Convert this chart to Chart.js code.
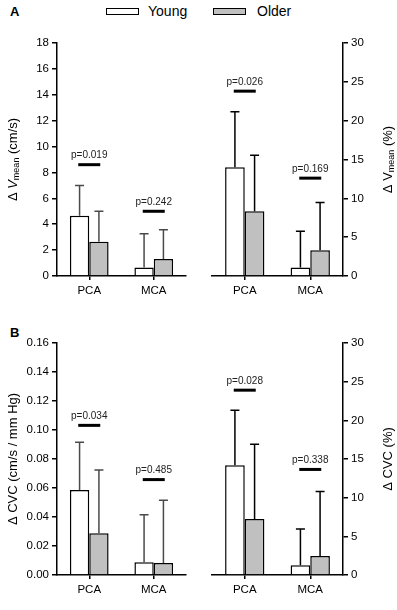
<!DOCTYPE html>
<html>
<head>
<meta charset="utf-8">
<script src="https://cdn.jsdelivr.net/npm/chart.js@4.4.1/dist/chart.umd.min.js"></script>
<style>
  body { margin: 0; background: #fff; font-family: "Liberation Sans", Arial, sans-serif; }
  #wrap { position: relative; width: 397px; height: 610px; overflow: hidden; }
  canvas { position: absolute; }
  .panel { position: absolute; font-weight: bold; font-size: 13px; }
  .leg-box { position: absolute; width: 31px; height: 5px; border: 1px solid #000; }
  .leg-text { position: absolute; font-size: 14px; }
</style>
</head>
<body>
<div id="wrap">
  <div class="panel" style="left:10px; top:4px;">A</div>
  <div class="panel" style="left:10px; top:325px;">B</div>
  <div class="leg-box" style="left:106px; top:8px; background:#fff;"></div>
  <div class="leg-text" style="left:148px; top:3px;">Young</div>
  <div class="leg-box" style="left:213px; top:8px; background:#c0c0c0;"></div>
  <div class="leg-text" style="left:257px; top:3px;">Older</div>

  <canvas id="vAbs" width="200" height="300" style="left:0; top:0;"></canvas>
  <canvas id="vPct" width="197" height="300" style="left:200px; top:0;"></canvas>
  <canvas id="cvcAbs" width="200" height="310" style="left:0; top:300px;"></canvas>
  <canvas id="cvcPct" width="197" height="310" style="left:200px; top:300px;"></canvas>
</div>
<script>
const categories = ["PCA", "MCA"];

// panel A, absolute change in mean velocity (cm/s)
const vAbsYoung = [4.65, 0.65];
const vAbsYoungSD = [2.35, 2.61];
const vAbsOlder = [2.64, 1.32];
const vAbsOlderSD = [2.36, 2.25];
const vAbsP = ["p=0.019", "p=0.242"];
const vAbsPLevel = [8.6, 5.0];

// panel A, relative change (%)
const vPctYoung = [14.0, 1.1];
const vPctYoungSD = [7.15, 4.65];
const vPctOlder = [8.35, 3.3];
const vPctOlderSD = [7.2, 6.15];
const vPctP = ["p=0.026", "p=0.169"];
const vPctPLevel = [23.8, 12.6];

// panel B, absolute change in CVC (cm/s / mm Hg)
const cvcAbsYoung = [0.0587, 0.0088];
const cvcAbsYoungSD = [0.0328, 0.0327];
const cvcAbsOlder = [0.0288, 0.0082];
const cvcAbsOlderSD = [0.0437, 0.0434];
const cvcAbsP = ["p=0.034", "p=0.485"];
const cvcAbsPLevel = [0.1032, 0.0658];

// panel B, relative change (%)
const cvcPctYoung = [14.2, 1.25];
const cvcPctYoungSD = [7.1, 4.7];
const cvcPctOlder = [7.25, 2.45];
const cvcPctOlderSD = [9.65, 8.35];
const cvcPctP = ["p=0.028", "p=0.338"];
const cvcPctPLevel = [23.9, 13.65];

const FONT = "'Liberation Sans', Arial, sans-serif";

function barChart({ canvas_id, young, youngSD, older, olderSD, pText, pLevel,
                    yMax, step, side, errColor, decimals, titleX, titleParts, padBottom }) {

  const sds = [youngSD, olderSD];

  const errorBars = {
    id: "errorBars",
    afterDatasetsDraw(chart) {
      const ctx = chart.ctx;
      const y = chart.scales.y;
      ctx.save();
      ctx.strokeStyle = errColor;
      ctx.lineWidth = 1.5;
      chart.data.datasets.forEach((ds, i) => {
        chart.getDatasetMeta(i).data.forEach((bar, j) => {
          const top = y.getPixelForValue(ds.data[j] + sds[i][j]);
          ctx.beginPath();
          ctx.moveTo(bar.x, bar.y);
          ctx.lineTo(bar.x, top);
          ctx.moveTo(bar.x - 4.5, top);
          ctx.lineTo(bar.x + 4.5, top);
          ctx.stroke();
        });
      });
      ctx.restore();
    }
  };

  const pMarks = {
    id: "pMarks",
    afterDatasetsDraw(chart) {
      const ctx = chart.ctx;
      const xs = chart.scales.x, ys = chart.scales.y;
      ctx.save();
      categories.forEach((c, j) => {
        const x = xs.getPixelForValue(j);
        const y = ys.getPixelForValue(pLevel[j]);
        ctx.strokeStyle = "#000";
        ctx.lineWidth = 3;
        ctx.beginPath();
        ctx.moveTo(x - 11, y);
        ctx.lineTo(x + 11, y);
        ctx.stroke();
        ctx.fillStyle = "#222";
        ctx.font = "10px " + FONT;
        ctx.textAlign = "center";
        ctx.textBaseline = "middle";
        ctx.fillText(pText[j], x, y - 9);
      });
      ctx.restore();
    }
  };

  // rotated axis title, with optional subscript parts
  const yTitle = {
    id: "yTitle",
    afterDraw(chart) {
      const ctx = chart.ctx;
      const area = chart.chartArea;
      const fontOf = p => (p.italic ? "italic " : "") + (p.size || 13) + "px " + FONT;
      ctx.save();
      let total = 0;
      titleParts.forEach(p => { ctx.font = fontOf(p); total += ctx.measureText(p.t).width; });
      ctx.translate(titleX, (area.top + area.bottom) / 2);
      ctx.rotate(-Math.PI / 2);
      ctx.fillStyle = "#000";
      ctx.textBaseline = "middle";
      ctx.textAlign = "left";
      let x = -total / 2;
      titleParts.forEach(p => {
        ctx.font = fontOf(p);
        ctx.fillText(p.t, x, p.sub ? 4 : 0);
        x += ctx.measureText(p.t).width;
      });
      ctx.restore();
    }
  };

  new Chart(document.getElementById(canvas_id), {
    type: "bar",
    data: {
      labels: categories,
      datasets: [
        { label: "Young", data: young, backgroundColor: "#ffffff", borderColor: "#000", borderWidth: 1.5 },
        { label: "Older", data: older, backgroundColor: "#c0c0c0", borderColor: "#000", borderWidth: 1.5 }
      ]
    },
    options: {
      responsive: false,
      animation: false,
      categoryPercentage: 0.6,
      barPercentage: 1.0,
      layout: {
        padding: side === "left"
          ? { top: 43, left: 0, right: 14, bottom: padBottom }
          : { top: 43, left: 12, right: 0, bottom: padBottom }
      },
      plugins: { legend: { display: false }, tooltip: { enabled: false } },
      scales: {
        x: {
          afterFit: s => { s.height = 24; },
          border: { color: "#000", width: 1.5 },
          grid: { offset: false, drawOnChartArea: false, tickLength: 4, color: "#000", lineWidth: 1.5 },
          ticks: { color: "#000", padding: 4, font: { family: FONT, size: 11.5 } }
        },
        y: {
          position: side,
          min: 0,
          max: yMax,
          afterFit: s => { s.width = side === "left" ? 57 : 54; },
          border: { color: "#000", width: 1.5 },
          grid: { drawOnChartArea: false, tickLength: 5, color: "#000", lineWidth: 1.5 },
          ticks: {
            stepSize: step,
            color: "#000",
            padding: 3,
            font: { family: FONT, size: 11.5 },
            callback: v => v.toFixed(decimals)
          }
        }
      }
    },
    plugins: [errorBars, pMarks, yTitle]
  });
}

barChart({
  canvas_id: "vAbs", young: vAbsYoung, youngSD: vAbsYoungSD, older: vAbsOlder, olderSD: vAbsOlderSD,
  pText: vAbsP, pLevel: vAbsPLevel, yMax: 18, step: 2, side: "left", errColor: "#4a4a4a",
  decimals: 0, titleX: 13, padBottom: 0,
  titleParts: [{ t: "\u0394 " }, { t: "V", italic: true }, { t: "mean", size: 9, sub: true }, { t: " (cm/s)" }]
});

barChart({
  canvas_id: "vPct", young: vPctYoung, youngSD: vPctYoungSD, older: vPctOlder, olderSD: vPctOlderSD,
  pText: vPctP, pLevel: vPctPLevel, yMax: 30, step: 5, side: "right", errColor: "#000",
  decimals: 0, titleX: 188, padBottom: 0,
  titleParts: [{ t: "\u0394 V" }, { t: "mean", size: 9, sub: true }, { t: " (%)" }]
});

barChart({
  canvas_id: "cvcAbs", young: cvcAbsYoung, youngSD: cvcAbsYoungSD, older: cvcAbsOlder, olderSD: cvcAbsOlderSD,
  pText: cvcAbsP, pLevel: cvcAbsPLevel, yMax: 0.16, step: 0.02, side: "left", errColor: "#4a4a4a",
  decimals: 2, titleX: 13, padBottom: 11,
  titleParts: [{ t: "\u0394 CVC (cm/s / mm Hg)" }]
});

barChart({
  canvas_id: "cvcPct", young: cvcPctYoung, youngSD: cvcPctYoungSD, older: cvcPctOlder, olderSD: cvcPctOlderSD,
  pText: cvcPctP, pLevel: cvcPctPLevel, yMax: 30, step: 5, side: "right", errColor: "#000",
  decimals: 0, titleX: 188, padBottom: 11,
  titleParts: [{ t: "\u0394 CVC (%)" }]
});
</script>
</body>
</html>
